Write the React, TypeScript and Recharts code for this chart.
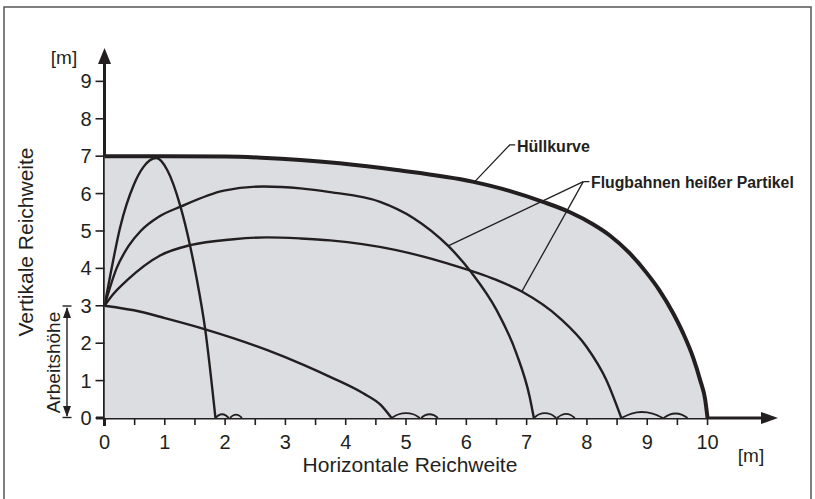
import React from 'react';
import { ComposedChart, Area, Line, XAxis, YAxis } from 'recharts';

const INK = '#231f20';
const FILL = '#dcdde0';
const FONT = '"Liberation Sans", Arial, sans-serif';

const xTicks = [0, 0.5, 1, 1.5, 2, 2.5, 3, 3.5, 4, 4.5, 5, 5.5, 6, 6.5, 7, 7.5, 8, 8.5, 9, 9.5, 10];
const yTicks = [0, 1, 2, 3, 4, 5, 6, 7, 8, 9];

// Hüllkurve (envelope)
const envelope: [number, number][] = [
  [0, 7], [1, 7.0], [2, 6.99], [2.6, 6.96], [3.25, 6.9], [3.9, 6.81], [4.85, 6.63], [6.1, 6.32],
  [6.7, 6.08], [7.27, 5.78], [7.72, 5.5], [8.1, 5.18], [8.38, 4.88], [8.7, 4.42], [8.98, 3.9],
  [9.2, 3.42], [9.43, 2.8], [9.6, 2.25], [9.76, 1.62], [9.88, 1.0], [9.96, 0.5], [10, 0],
];

// Flugbahnen heißer Partikel
const steepPath: [number, number][] = [
  [0, 3], [0.1, 3.85], [0.26, 5.1], [0.49, 6.25], [0.65, 6.72], [0.86, 6.95], [1.04, 6.63],
  [1.26, 5.65], [1.42, 4.6], [1.52, 3.8], [1.67, 2.37], [1.84, 0],
];
const upperPath: [number, number][] = [
  [0, 3], [0.2, 4.0], [0.4, 4.6], [0.6, 5.0], [0.9, 5.38], [1.26, 5.65], [1.98, 6.08], [2.64, 6.19],
  [3.25, 6.14], [3.74, 6.04], [4.57, 5.78], [5.12, 5.35], [5.7, 4.6], [6.08, 3.9], [6.5, 2.89],
  [6.83, 1.73], [7.05, 0.57], [7.12, 0],
];
const lowerPath: [number, number][] = [
  [0, 3], [0.15, 3.32], [0.38, 3.69], [0.93, 4.35], [1.42, 4.62], [2.14, 4.78], [2.69, 4.83], [3.25, 4.8],
  [3.74, 4.75], [4.84, 4.49], [5.67, 4.14], [6.5, 3.69], [6.92, 3.38], [7.55, 2.67], [7.99, 1.91],
  [8.32, 1.02], [8.57, 0],
];
const lowPath: [number, number][] = [
  [0, 3], [0.6, 2.84], [1.0, 2.67], [1.67, 2.37], [2.69, 1.82], [3.3, 1.42], [3.74, 1.1],
  [4.29, 0.66], [4.58, 0.35], [4.76, 0],
];

// small bounces on the ground
const bounces: [number, number][][] = [
  [[1.84, 0], [1.89, 0.07], [1.95, 0.1], [2.01, 0.07], [2.06, 0]],
  [[2.08, 0], [2.13, 0.065], [2.18, 0.09], [2.23, 0.065], [2.28, 0]],
  [[4.76, 0], [4.88, 0.1], [5.0, 0.13], [5.12, 0.1], [5.23, 0]],
  [[5.25, 0], [5.32, 0.075], [5.39, 0.1], [5.46, 0.075], [5.53, 0]],
  [[7.12, 0], [7.21, 0.1], [7.3, 0.13], [7.4, 0.1], [7.49, 0]],
  [[7.5, 0], [7.58, 0.08], [7.65, 0.11], [7.73, 0.08], [7.8, 0]],
  [[8.57, 0], [8.74, 0.12], [8.91, 0.16], [9.09, 0.12], [9.26, 0]],
  [[9.27, 0], [9.37, 0.09], [9.47, 0.12], [9.57, 0.09], [9.67, 0]],
];

// leader lines (data coordinates)
const huellLeader: [number, number][] = [[6.14, 6.32], [6.72, 7.3], [6.81, 7.3]];
const flugLeaderA: [number, number][] = [[5.7, 4.6], [7.94, 6.32]];
const flugLeaderB: [number, number][] = [[6.92, 3.38], [7.94, 6.32]];
const flugLeaderTop: [number, number][] = [[7.94, 6.32], [8.04, 6.32]];

const toObj = (arr: [number, number][]) => arr.map(([x, y]) => ({ x, y }));

export default function App() {
  return (
    <div style={{ position: 'absolute', left: 0, top: 0, width: 815, height: 499, background: '#fff' }}>
      <ComposedChart
        width={815}
        height={499}
        margin={{ top: 47.7, right: 35.1, bottom: 51, left: 44.5 }}
      >
        <rect x={4} y={7} width={807} height={520} fill="none" stroke="#555" strokeWidth={1.5} />
        <XAxis
          type="number"
          dataKey="x"
          domain={[0, 11.2]}
          allowDataOverflow
          ticks={xTicks}
          interval={0}
          tickFormatter={(v: number) => (Number.isInteger(v) ? String(v) : '')}
          axisLine={false}
          tickLine={{ stroke: INK, strokeWidth: 1.6 }}
          tickSize={7}
          tickMargin={10}
          height={30}
          tick={{ fontSize: 20, fill: INK, fontFamily: FONT }}
        />
        <YAxis
          type="number"
          dataKey="y"
          domain={[0, 9.9]}
          allowDataOverflow
          ticks={yTicks}
          interval={0}
          axisLine={false}
          tickLine={{ stroke: INK, strokeWidth: 1.6 }}
          tickSize={9}
          tickMargin={4}
          width={60}
          tick={{ fontSize: 20, fill: INK, fontFamily: FONT }}
        />
        <Area
          data={toObj(envelope)}
          dataKey="y"
          type="monotone"
          fill={FILL}
          fillOpacity={1}
          stroke={INK}
          strokeWidth={4}
          isAnimationActive={false}
          dot={false}
          activeDot={false}
        />
        {[steepPath, upperPath, lowerPath, lowPath].map((p, i) => (
          <Line
            key={'p' + i}
            data={toObj(p)}
            dataKey="y"
            type="monotone"
            stroke={INK}
            strokeWidth={2.4}
            dot={false}
            activeDot={false}
            isAnimationActive={false}
          />
        ))}
        {bounces.map((p, i) => (
          <Line
            key={'b' + i}
            data={toObj(p)}
            dataKey="y"
            type="monotone"
            stroke={INK}
            strokeWidth={1.8}
            dot={false}
            activeDot={false}
            isAnimationActive={false}
          />
        ))}
        {[huellLeader, flugLeaderA, flugLeaderB, flugLeaderTop].map((p, i) => (
          <Line
            key={'l' + i}
            data={toObj(p)}
            dataKey="y"
            type="linear"
            stroke={INK}
            strokeWidth={1.3}
            dot={false}
            activeDot={false}
            isAnimationActive={false}
          />
        ))}

        {/* axes */}
        <line x1={96} y1={418} x2={764} y2={418} stroke={INK} strokeWidth={3} />
        <polygon points="778,418 761,412 761,424" fill={INK} />
        <line x1={104.5} y1={426} x2={104.5} y2={62} stroke={INK} strokeWidth={3} />
        <polygon points="104.5,48 98,64 111,64" fill={INK} />

        {/* Arbeitshöhe dimension arrow */}
        <line x1={67} y1={308} x2={67} y2={416} stroke={INK} strokeWidth={1.4} />
        <line x1={62.5} y1={306} x2={71.5} y2={306} stroke={INK} strokeWidth={1.4} />
        <line x1={62.5} y1={417.5} x2={71.5} y2={417.5} stroke={INK} strokeWidth={1.4} />
        <polygon points="67,307 63,318 71,318" fill={INK} />
        <polygon points="67,417 63,406 71,406" fill={INK} />

        {/* central label */}
        <rect x={265} y={287.3} width={205} height={49.4} fill="#fff" />
        <text x={368.3} y={306.7} textAnchor="middle" fontFamily={FONT} fontWeight="bold" fontSize={21} fill={INK}>
          Durch Funkenflug
        </text>
        <text x={368.3} y={330} textAnchor="middle" fontFamily={FONT} fontWeight="bold" fontSize={21} fill={INK}>
          gefährdeter Bereich
        </text>

        <text x={517} y={152} fontFamily={FONT} fontWeight="bold" fontSize={16} fill={INK}>
          Hüllkurve
        </text>
        <text x={591} y={187.5} fontFamily={FONT} fontWeight="bold" fontSize={15.8} fill={INK}>
          Flugbahnen heißer Partikel
        </text>

        {/* axis titles */}
        <text x={64} y={63.5} textAnchor="middle" fontFamily={FONT} fontSize={19} fill={INK}>
          [m]
        </text>
        <text x={751} y={461.5} textAnchor="middle" fontFamily={FONT} fontSize={19} fill={INK}>
          [m]
        </text>
        <text x={410} y={472} textAnchor="middle" fontFamily={FONT} fontSize={21} fill={INK}>
          Horizontale Reichweite
        </text>
        <text
          x={0}
          y={0}
          transform="translate(33,242) rotate(-90)"
          textAnchor="middle"
          fontFamily={FONT}
          fontSize={21}
          fill={INK}
        >
          Vertikale Reichweite
        </text>
        <text
          x={0}
          y={0}
          transform="translate(59.5,362.5) rotate(-90)"
          textAnchor="middle"
          fontFamily={FONT}
          fontSize={19}
          fill={INK}
        >
          Arbeitshöhe
        </text>
      </ComposedChart>
    </div>
  );
}
